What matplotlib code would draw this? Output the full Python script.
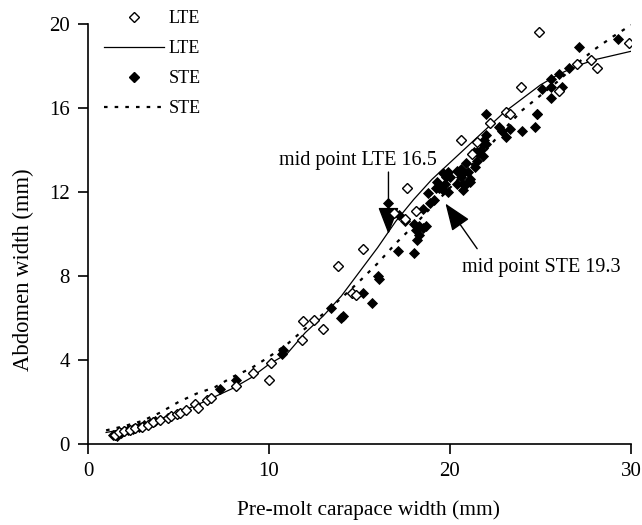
import matplotlib
matplotlib.use("Agg")
import matplotlib.pyplot as plt
from matplotlib.lines import Line2D

plt.rcParams['font.family'] = ['Liberation Serif', 'DejaVu Serif']

# LTE observed (open diamonds)
lte_cw = [1.5, 1.7, 2.0, 2.3, 2.6, 3.0, 3.3, 3.6, 4.0, 4.4,
          4.6, 4.9, 5.1, 5.4, 5.9, 6.1, 6.6, 6.8, 8.2, 9.1,
          10.0, 10.1, 11.8, 11.9, 12.5, 13.0, 13.8, 14.6, 14.8, 15.2,
          16.9, 17.5, 17.6, 18.1, 20.6, 21.2, 21.5, 22.2, 23.1, 23.3,
          23.9, 24.9, 26.0, 27.0, 27.8, 28.1, 29.9]
lte_aw = [0.45, 0.55, 0.6, 0.65, 0.75, 0.8, 0.9, 1.05, 1.15, 1.25,
          1.35, 1.45, 1.5, 1.6, 1.9, 1.7, 2.1, 2.2, 2.75, 3.4,
          3.05, 3.85, 4.95, 5.85, 5.9, 5.5, 8.5, 7.2, 7.1, 9.3,
          11.0, 10.7, 12.2, 11.1, 14.5, 13.8, 14.4, 15.3, 15.8, 15.7,
          17.0, 19.6, 16.8, 18.1, 18.3, 17.9, 19.1]

# STE observed (filled diamonds)
ste_cw = [1.4, 1.6, 1.8, 2.0, 2.2, 2.5, 2.8, 3.1, 3.4, 3.7,
          7.3, 8.2, 10.7, 10.8, 13.4, 14.0, 14.1, 15.2, 15.7, 16.0,
          16.1, 16.6, 17.1, 17.2, 17.5, 18.0, 18.0, 18.1, 18.2, 18.3,
          18.3, 18.5, 18.5, 18.7, 18.9, 18.8, 19.1, 19.2, 19.4, 19.3,
          19.6, 19.6, 19.7, 19.8, 19.9, 19.9, 20.0, 20.4, 20.4, 20.6,
          20.6, 20.7, 20.7, 20.7, 20.9, 20.9, 21.0, 21.1, 21.1, 21.4,
          21.3, 21.5, 21.5, 21.7, 21.8, 21.8, 21.9, 22.0, 22.0, 22.0,
          22.7, 22.9, 23.1, 23.3, 24.0, 24.7, 24.8, 24.8, 25.1, 25.6,
          25.6, 25.6, 26.0, 26.2, 26.6, 27.1, 29.3]
ste_aw = [0.43, 0.4, 0.52, 0.6, 0.67, 0.7, 0.8, 0.9, 1.0, 1.1,
          2.6, 3.05, 4.3, 4.5, 6.5, 6.0, 6.1, 7.2, 6.7, 8.0,
          7.85, 11.5, 9.2, 10.9, 10.6, 10.5, 9.1, 10.2, 9.7, 10.4,
          9.95, 10.3, 11.2, 10.4, 11.5, 11.95, 11.6, 12.2, 12.2, 12.5,
          12.9, 12.1, 12.4, 12.7, 12.0, 12.95, 12.7, 13.0, 12.4, 12.7,
          13.1, 12.9, 12.1, 12.4, 13.4, 12.4, 12.95, 12.6, 12.5, 13.2,
          13.9, 13.5, 13.9, 14.0, 13.7, 14.3, 14.5, 14.3, 14.7, 15.7,
          15.1, 14.9, 14.6, 15.0, 14.9, 15.1, 15.7, 15.7, 16.9, 17.0,
          16.5, 17.4, 17.6, 17.0, 17.9, 18.9, 19.3]

# Fitted curves
fit_x = [1, 2, 3, 4, 5, 6, 7, 8, 9, 10,
         11, 12, 13, 14, 15, 16, 17, 18, 19, 20,
         21, 22, 23, 24, 25, 26, 27, 28, 29, 30]
lte_fit = [0.55, 0.7, 0.9, 1.2, 1.5, 1.85, 2.25, 2.65, 3.15, 3.8,
           4.3, 5.3, 6.1, 7.05, 8.2, 9.35, 10.6, 11.65, 12.6, 13.4,
           14.2, 15.0, 15.8, 16.45, 17.1, 17.6, 18.0, 18.3, 18.5, 18.7]
ste_fit = [0.65, 0.85, 1.1, 1.5, 2.0, 2.4, 2.7, 3.2, 3.6, 4.15,
           4.75, 5.5, 6.2, 6.95, 7.75, 8.6, 9.55, 10.4, 11.3, 12.2,
           13.1, 14.0, 15.0, 15.9, 16.6, 17.3, 18.1, 18.8, 19.4, 19.95]

x_ticks = [0, 10, 20, 30]
y_ticks = [0, 4, 8, 12, 16, 20]

fig = plt.figure(figsize=(6.42, 5.25), dpi=100)
ax = fig.add_axes([88/642, 81/525, 543/642, 420/525])

dotted = (0, (1.6, 3.2))
ax.plot(fit_x, lte_fit, color='black', lw=0.9, zorder=2)
ax.plot(fit_x, ste_fit, color='black', lw=1.6, linestyle=dotted, zorder=2)
ax.plot(ste_cw, ste_aw, linestyle='none', marker='D', markersize=5.2,
        markerfacecolor='black', markeredgecolor='black', markeredgewidth=0.6, zorder=3)
ax.plot(lte_cw, lte_aw, linestyle='none', marker='D', markersize=4.6,
        markerfacecolor='white', markeredgecolor='black', markeredgewidth=1.0, zorder=4)

# annotations
arrow_style = dict(arrowstyle='-|>,head_length=1.3,head_width=0.5',
                   color='black', lw=1.0, mutation_scale=13, shrinkA=0, shrinkB=0)
ax.annotate('', xy=(16.6, 10.0), xytext=(16.6, 12.95), arrowprops=arrow_style)
ax.text(14.9, 13.5, 'mid point LTE 16.5', ha='center', va='center', fontsize=14.5)
ax.annotate('', xy=(19.75, 11.45), xytext=(21.5, 9.3), arrowprops=arrow_style)
ax.text(20.66, 8.4, 'mid point STE 19.3', ha='left', va='center', fontsize=14.5)

ax.set_xlim(0, 30)
ax.set_ylim(0, 20)
ax.set_xticks(x_ticks)
ax.set_yticks(y_ticks)
ax.spines['top'].set_visible(False)
ax.spines['right'].set_visible(False)
for s in ('left', 'bottom'):
    ax.spines[s].set_linewidth(1.2)
ax.tick_params(axis='both', direction='out', length=7, width=1.2, labelsize=15, pad=6)
ax.set_xlabel('Pre-molt carapace width (mm)', fontsize=15.4)
ax.set_ylabel('Abdomen width (mm)', fontsize=16.3)
ax.xaxis.set_label_coords(0.516, -0.135)
ax.yaxis.set_label_coords(-0.10, 0.414)

handles = [
    Line2D([], [], linestyle='none', marker='D', markersize=4.6,
           markerfacecolor='white', markeredgecolor='black', markeredgewidth=1.0),
    Line2D([], [], color='black', lw=0.9),
    Line2D([], [], linestyle='none', marker='D', markersize=5.2,
           markerfacecolor='black', markeredgecolor='black'),
    Line2D([], [], color='black', lw=1.6, linestyle=dotted),
]
labels = ['LTE', 'LTE', 'STE', 'STE']
fig.legend(handles, labels, loc='upper left', bbox_to_anchor=(104/642, 1 - 10/525),
           frameon=False, fontsize=13, handlelength=3.3, handletextpad=0.3,
           labelspacing=0.72, borderpad=0, borderaxespad=0)

fig.savefig('out.png', dpi=100)
